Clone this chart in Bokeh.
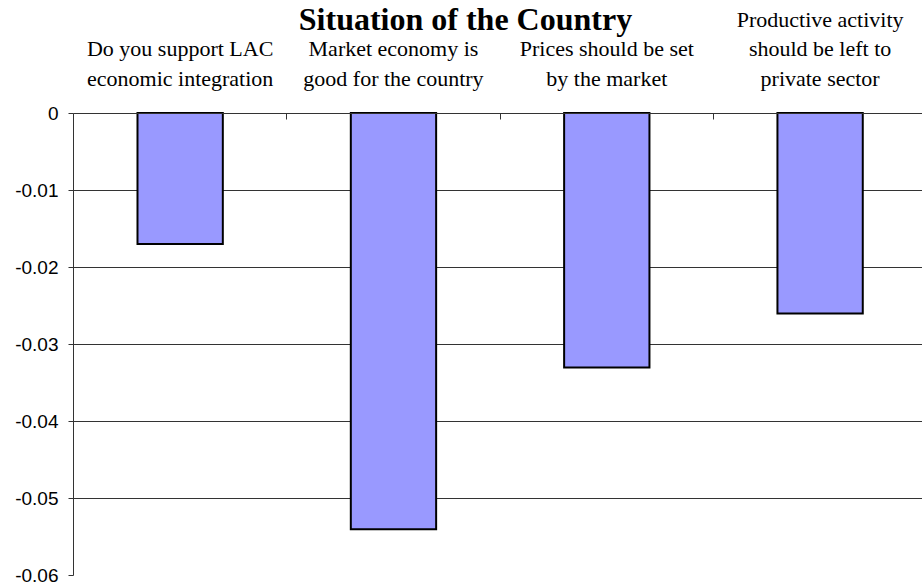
from bokeh.plotting import figure
from bokeh.models import Range1d, FixedTicker, Label
from bokeh.embed import file_html
from bokeh.resources import INLINE

# ---- data ----
category_lines = [
    ["Do you support LAC", "economic integration"],
    ["Market economy is", "good for the country"],
    ["Prices should be set", "by the market"],
    ["Productive activity", "should be left to", "private sector"],
]
values = [-0.017, -0.054, -0.033, -0.026]
y_ticks = [0, -0.01, -0.02, -0.03, -0.04, -0.05, -0.06]
y_tick_labels = ["0", "-0.01", "-0.02", "-0.03", "-0.04", "-0.05", "-0.06"]
title_text = "Situation of the Country"

# ---- layout ----
W, H = 922, 585
B_LEFT, B_RIGHT, B_TOP, B_BOTTOM = 73, 0, 0, 10
frame_w = W - B_LEFT - B_RIGHT
frame_h = H - B_TOP - B_BOTTOM
zero_px_from_top = 112.5          # where value 0 sits in the frame
y_min = -0.06
px_per_unit = (frame_h - zero_px_from_top) / (0 - y_min)
y_top = zero_px_from_top / px_per_unit
x_max = 3.98
px_per_x = frame_w / x_max

n = len(values)
centers = [i + 0.5 for i in range(n)]

p = figure(width=W, height=H,
           x_range=Range1d(0, x_max), y_range=Range1d(y_min, y_top),
           output_backend="svg", toolbar_location=None,
           min_border_left=B_LEFT, min_border_right=B_RIGHT,
           min_border_top=B_TOP, min_border_bottom=B_BOTTOM,
           background_fill_color="white", border_fill_color="white")
p.outline_line_color = None

# bars
p.vbar(x=centers, top=0, bottom=values, width=0.4,
       fill_color="#9999FF", line_color="black", line_width=2,
       line_join="miter")

# category axis drawn at value 0, tick marks at category boundaries
xa = p.xaxis[0]
xa.fixed_location = 0
xa.ticker = FixedTicker(ticks=[], minor_ticks=list(range(n + 1)))
xa.major_label_text_font_size = "0px"
xa.major_label_standoff = 0
xa.major_tick_in = 0
xa.major_tick_out = 0
xa.minor_tick_in = 0
xa.minor_tick_out = 6
xa.minor_tick_line_color = "#333333"
xa.axis_line_color = "#333333"

# value axis
ya = p.yaxis[0]
ya.bounds = (y_min, 0)
ya.ticker = FixedTicker(ticks=y_ticks, minor_ticks=[])
ya.major_label_overrides = {t: s for t, s in zip(y_ticks, y_tick_labels)}
ya.major_label_text_font = "Liberation Sans"
ya.major_label_text_font_size = "19px"
ya.major_label_text_color = "black"
ya.major_tick_in = 0
ya.major_tick_out = 5
ya.major_tick_line_color = "#333333"
ya.axis_line_color = "#333333"
ya.major_label_standoff = 10

p.xgrid.visible = False
p.ygrid.ticker = FixedTicker(ticks=y_ticks, minor_ticks=[])
p.ygrid.grid_line_color = "#333333"

# category labels above the bars, bottom aligned
line_offsets_px = [35, 64.5, 93.5]   # heights above value 0
for c, lines in zip(centers, category_lines):
    for j, txt in enumerate(reversed(lines)):
        p.add_layout(Label(x=c, y=line_offsets_px[j] / px_per_unit,
                           text=txt, text_align="center",
                           text_baseline="alphabetic",
                           text_font="Liberation Serif",
                           text_font_size="22px", text_color="black"))

# title (centred on the whole chart, at the very top)
p.add_layout(Label(x=(465 - B_LEFT) / px_per_x,
                   y=(zero_px_from_top - 18) / px_per_unit,
                   text=title_text, text_align="center",
                   text_baseline="alphabetic",
                   text_font="Liberation Serif", text_font_style="bold",
                   text_font_size="32px", text_color="black"))

open("out.html", "w").write(file_html(p, INLINE))
